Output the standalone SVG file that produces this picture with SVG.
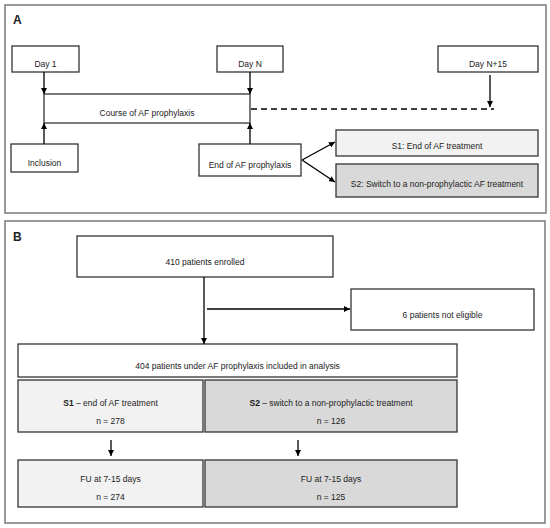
<svg xmlns="http://www.w3.org/2000/svg" width="550" height="528" viewBox="0 0 550 528">
<style>
.frame{fill:#fff;stroke:#7a7a7a;stroke-width:1.5}
.box{fill:#fff;stroke:#333;stroke-width:1.3}
.l1{fill:#f2f2f2;stroke:#333;stroke-width:1.3}
.l2{fill:#d9d9d9;stroke:#333;stroke-width:1.3}
text{font-family:"Liberation Sans",Arial,sans-serif;font-size:8.5px;fill:#222;text-anchor:middle}
.lab{font-size:12px;font-weight:bold;text-anchor:start}
.c{stroke:#000;stroke-width:1.3;fill:none}
</style>
<defs>
<marker id="ah" viewBox="0 0 10 10" refX="10" refY="5" markerWidth="6" markerHeight="6" markerUnits="userSpaceOnUse" orient="auto">
<path d="M0,0 L10,5 L0,10 z" fill="#000"/>
</marker>
</defs>
<rect width="550" height="528" fill="#fff"/>
<rect class="frame" x="5" y="5" width="541" height="208"/>
<rect class="frame" x="5" y="221" width="540" height="302"/>
<text class="lab" x="13" y="24">A</text>
<text class="lab" x="13" y="241">B</text>

<g id="day1"><rect class="box" x="12" y="46" width="67" height="26"/><text x="45.5" y="67">Day 1</text></g>
<g id="dayN"><rect class="box" x="217" y="46" width="66" height="26"/><text x="250" y="67">Day N</text></g>
<g id="dayN15"><rect class="box" x="438" y="46" width="100" height="26"/><text x="488" y="67">Day N+15</text></g>
<g id="course"><rect class="box" x="44" y="94" width="206" height="29"/><text x="147" y="116">Course of AF prophylaxis</text></g>
<g id="inclusion"><rect class="box" x="11" y="144" width="67" height="28"/><text x="44.5" y="166">Inclusion</text></g>
<g id="endAF"><rect class="box" x="199" y="144" width="102" height="32"/><text x="250" y="168">End of AF prophylaxis</text></g>
<g id="s1a"><rect class="l1" x="336" y="130" width="202" height="26"/><text x="437" y="149">S1: End of AF treatment</text></g>
<g id="s2a"><rect class="l2" x="336" y="164" width="202" height="33"/><text x="437" y="187">S2: Switch to a non-prophylactic AF treatment</text></g>

<g id="enrolled"><rect class="box" x="77" y="236" width="256" height="41"/><text x="205" y="265">410 patients enrolled</text></g>
<g id="noteligible"><rect class="box" x="351" y="289" width="183" height="41"/><text x="442.5" y="318">6 patients not eligible</text></g>
<g id="analysis"><rect class="box" x="18" y="344" width="439" height="33"/><text x="237.5" y="369">404 patients under AF prophylaxis included in analysis</text></g>
<g id="s1b"><rect class="l1" x="18" y="380" width="185" height="52"/><text x="110.5" y="406"><tspan font-weight="bold">S1</tspan> – end of AF treatment</text><text x="110.5" y="424">n = 278</text></g>
<g id="s2b"><rect class="l2" x="205" y="380" width="252" height="52"/><text x="331" y="406"><tspan font-weight="bold">S2</tspan> – switch to a non-prophylactic treatment</text><text x="331" y="424">n = 126</text></g>
<g id="fu1"><rect class="l1" x="18" y="460" width="185" height="47"/><text x="110.5" y="482">FU at 7-15 days</text><text x="110.5" y="500">n = 274</text></g>
<g id="fu2"><rect class="l2" x="205" y="460" width="252" height="47"/><text x="331" y="482">FU at 7-15 days</text><text x="331" y="500">n = 125</text></g>

<g id="connectors">
<line class="c" x1="44" y1="72" x2="44" y2="94" marker-end="url(#ah)"/>
<line class="c" x1="250" y1="72" x2="250" y2="94" marker-end="url(#ah)"/>
<line class="c" x1="44" y1="144" x2="44" y2="123" marker-end="url(#ah)"/>
<line class="c" x1="250" y1="144" x2="250" y2="123" marker-end="url(#ah)"/>
<line class="c" x1="251" y1="109" x2="494" y2="109" stroke-dasharray="6,4"/>
<line class="c" x1="490" y1="75" x2="490" y2="107" marker-end="url(#ah)"/>
<line class="c" x1="302" y1="160" x2="335" y2="142" marker-end="url(#ah)"/>
<line class="c" x1="302" y1="160" x2="335" y2="182" marker-end="url(#ah)"/>
<line class="c" x1="204" y1="277" x2="204" y2="344" marker-end="url(#ah)"/>
<line class="c" x1="207" y1="309" x2="350" y2="309" marker-end="url(#ah)"/>
<line class="c" x1="111" y1="440" x2="111" y2="456" marker-end="url(#ah)"/>
<line class="c" x1="298" y1="440" x2="298" y2="456" marker-end="url(#ah)"/>
</g>
</svg>
